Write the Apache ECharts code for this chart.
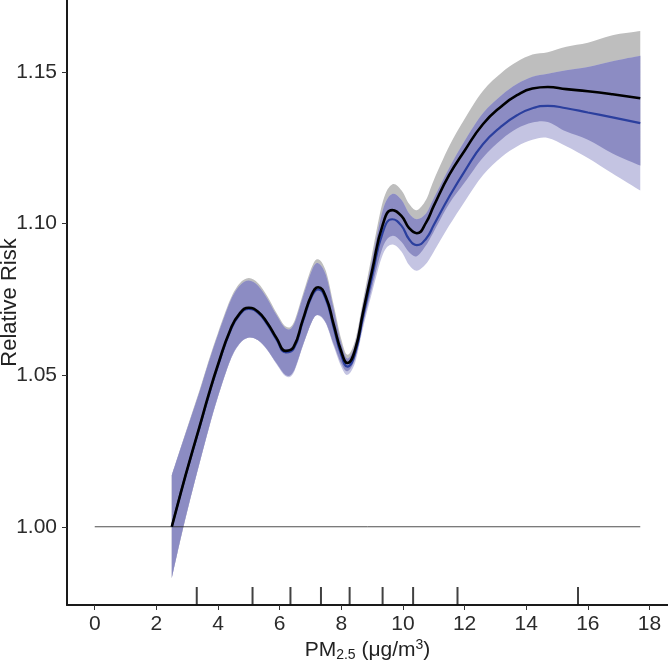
<!DOCTYPE html>
<html>
<head>
<meta charset="utf-8">
<script src="https://cdn.jsdelivr.net/npm/echarts@6/dist/echarts.min.js"></script>
<style>
html,body{margin:0;padding:0;background:#fff;}
#chart{width:668px;height:664px;}
</style>
</head>
<body>
<div id="chart"></div>
<script>
// PM2.5 exposure grid (µg/m3)
const xs = [2.5, 2.8, 3.1, 3.4, 3.7, 4.0, 4.4, 4.7, 5.0, 5.3, 5.6, 5.9, 6.2, 6.45, 6.75, 7.05, 7.25, 7.5, 7.75, 8.0, 8.2, 8.45, 8.7, 9.0, 9.35, 9.65, 9.95, 10.2, 10.45, 10.75, 11.0, 11.5, 12.0, 12.6, 13.2, 13.7, 14.2, 14.7, 15.3, 16.0, 16.8, 17.7];

// Model A (black line, grey band)
const riskA = [1.0000, 1.0115, 1.0225, 1.0330, 1.0437, 1.0535, 1.0650, 1.0703, 1.0722, 1.0709, 1.0672, 1.0622, 1.0580, 1.0592, 1.0682, 1.0768, 1.0790, 1.0758, 1.0668, 1.0578, 1.0540, 1.0585, 1.0705, 1.0845, 1.0998, 1.1044, 1.1025, 1.0985, 1.0968, 1.1003, 1.1058, 1.1160, 1.1240, 1.1328, 1.1387, 1.1423, 1.1445, 1.1450, 1.1443, 1.1436, 1.1426, 1.1413];
const lowA  = [0.9830, 0.9965, 1.0092, 1.0210, 1.0325, 1.0430, 1.0550, 1.0604, 1.0624, 1.0615, 1.0584, 1.0539, 1.0500, 1.0512, 1.0598, 1.0678, 1.0698, 1.0673, 1.0603, 1.0538, 1.0513, 1.0555, 1.0667, 1.0790, 1.0923, 1.0959, 1.0940, 1.0905, 1.0892, 1.0928, 1.0973, 1.1065, 1.1135, 1.1218, 1.1277, 1.1313, 1.1333, 1.1335, 1.1303, 1.1276, 1.1231, 1.1191];
const upA   = [1.0170, 1.0265, 1.0358, 1.0450, 1.0549, 1.0640, 1.0750, 1.0802, 1.0820, 1.0803, 1.0760, 1.0705, 1.0660, 1.0672, 1.0766, 1.0858, 1.0882, 1.0843, 1.0733, 1.0618, 1.0567, 1.0615, 1.0743, 1.0900, 1.1073, 1.1129, 1.1110, 1.1065, 1.1044, 1.1078, 1.1143, 1.1255, 1.1345, 1.1438, 1.1497, 1.1533, 1.1557, 1.1565, 1.1583, 1.1596, 1.1621, 1.1635];

// Model B (blue line, blue band)
const riskB = [1.0000, 1.0115, 1.0223, 1.0327, 1.0433, 1.0531, 1.0646, 1.0699, 1.0718, 1.0705, 1.0667, 1.0617, 1.0575, 1.0586, 1.0676, 1.0762, 1.0783, 1.0750, 1.0658, 1.0566, 1.0528, 1.0572, 1.0690, 1.0826, 1.0972, 1.1014, 1.0993, 1.0948, 1.0929, 1.0950, 1.0995, 1.1088, 1.1172, 1.1262, 1.1321, 1.1357, 1.1380, 1.1388, 1.1380, 1.1366, 1.1350, 1.1331];
const lowB  = [0.9830, 0.9967, 1.0092, 1.0209, 1.0323, 1.0428, 1.0548, 1.0603, 1.0624, 1.0615, 1.0582, 1.0536, 1.0496, 1.0507, 1.0595, 1.0677, 1.0697, 1.0670, 1.0596, 1.0528, 1.0501, 1.0542, 1.0653, 1.0773, 1.0899, 1.0931, 1.0908, 1.0863, 1.0844, 1.0867, 1.0907, 1.0993, 1.1072, 1.1160, 1.1219, 1.1254, 1.1276, 1.1282, 1.1255, 1.1216, 1.1165, 1.1109];
const upB   = [1.0170, 1.0263, 1.0354, 1.0445, 1.0543, 1.0634, 1.0744, 1.0795, 1.0812, 1.0795, 1.0752, 1.0698, 1.0654, 1.0665, 1.0757, 1.0847, 1.0869, 1.0830, 1.0720, 1.0604, 1.0555, 1.0602, 1.0727, 1.0879, 1.1045, 1.1097, 1.1078, 1.1033, 1.1014, 1.1033, 1.1083, 1.1183, 1.1272, 1.1364, 1.1423, 1.1460, 1.1484, 1.1494, 1.1505, 1.1516, 1.1535, 1.1553];

// Rug (observation deciles) and reference line
const rugX = [3.31, 5.12, 6.35, 7.34, 8.27, 9.34, 10.33, 11.77, 15.68];
const refX = [0, 17.7];
const refY = [1, 1];

// Axis ticks
const xTicks = [0, 2, 4, 6, 8, 10, 12, 14, 16, 18];
const yTicks = [1.00, 1.05, 1.10, 1.15];

const X_MIN = -0.9, X_MAX = 18.6, Y_MIN = 0.9742, Y_MAX = 1.1737;

const FONT = '"Liberation Sans", Arial, Helvetica, sans-serif';
const C_GREY = '#bebebe', C_LAV = '#c4c4e2', C_DARK = '#8c8cc3', C_BLUE = '#2b3f9e';

const lowI = xs.map((_, i) => Math.max(lowA[i], lowB[i]));
const upI = xs.map((_, i) => Math.min(upA[i], upB[i]));

// Catmull-Rom -> cubic bezier path through pixel points
function crPath(p) {
  let s = '';
  const t = 1 / 6;
  for (let i = 0; i < p.length - 1; i++) {
    const p0 = p[Math.max(i - 1, 0)], p1 = p[i], p2 = p[i + 1], p3 = p[Math.min(i + 2, p.length - 1)];
    s += ' C' + (p1[0] + (p2[0] - p0[0]) * t) + ' ' + (p1[1] + (p2[1] - p0[1]) * t) + ' ' +
         (p2[0] - (p3[0] - p1[0]) * t) + ' ' + (p2[1] - (p3[1] - p1[1]) * t) + ' ' + p2[0] + ' ' + p2[1];
  }
  return s;
}

function bandSeries(lo, hi, color, z) {
  return {
    type: 'custom', silent: true, z: z, clip: false,
    data: xs.map((x, i) => [x, lo[i], hi[i]]),
    encode: { x: 0, y: [1, 2] },
    renderItem: function (params, api) {
      if (params.dataIndex !== 0) return null;
      const top = xs.map((x, i) => api.coord([x, hi[i]]));
      const bot = xs.map((x, i) => api.coord([x, lo[i]])).reverse();
      const d = 'M' + top[0][0] + ' ' + top[0][1] + crPath(top) +
                ' L' + bot[0][0] + ' ' + bot[0][1] + crPath(bot) + ' Z';
      return { type: 'path', shape: { pathData: d }, style: { fill: color, stroke: null } };
    }
  };
}

const chart = echarts.init(document.getElementById('chart'), null, { renderer: 'canvas' });
chart.setOption({
  animation: false,
  backgroundColor: '#fff',
  grid: { left: 67, right: 0, top: 0, bottom: 59, containLabel: false, outerBoundsMode: 'none' },
  xAxis: {
    type: 'value', min: X_MIN, max: X_MAX,
    name: 'PM{sub|2.5} (μg/m{sup|3})',
    nameLocation: 'middle', nameGap: 33, nameMoveOverlap: false,
    nameTextStyle: {
      fontFamily: FONT, fontSize: 21, color: '#222',
      rich: {
        sub: { fontFamily: FONT, fontSize: 14, color: '#222', padding: [10, 0, 0, 0] },
        sup: { fontFamily: FONT, fontSize: 14, color: '#222', padding: [0, 0, 9, 0] }
      }
    },
    axisLine: { onZero: false, lineStyle: { color: '#1a1a1a', width: 2 } },
    axisTick: { show: true, length: 5, customValues: xTicks, lineStyle: { color: '#333', width: 1 } },
    axisLabel: { customValues: xTicks, fontFamily: FONT, fontSize: 21, color: '#2b2b2b', margin: 9 },
    splitLine: { show: false }
  },
  yAxis: {
    type: 'value', min: Y_MIN, max: Y_MAX,
    name: 'Relative Risk',
    nameLocation: 'middle', nameGap: 46, nameRotate: 90, nameMoveOverlap: false,
    nameTextStyle: { fontFamily: FONT, fontSize: 22, color: '#222' },
    axisLine: { onZero: false, lineStyle: { color: '#1a1a1a', width: 2 } },
    axisTick: { show: true, length: 5, customValues: yTicks, lineStyle: { color: '#333', width: 1 } },
    axisLabel: { customValues: yTicks, fontFamily: FONT, fontSize: 21, color: '#2b2b2b', margin: 10,
      formatter: v => v.toFixed(2) },
    splitLine: { show: false }
  },
  series: [
    bandSeries(lowA, upA, C_GREY, 2),
    bandSeries(lowB, upB, C_LAV, 2),
    bandSeries(lowI, upI, C_DARK, 2),
    { type: 'line', data: refX.map((x, i) => [x, refY[i]]), symbol: 'none',
      lineStyle: { color: '#222', width: 0.8 }, silent: true, z: 3 },
    { type: 'line', data: xs.map((x, i) => [x, riskB[i]]), symbol: 'none', smooth: 0.5,
      lineStyle: { color: C_BLUE, width: 2.2 }, silent: true, z: 4 },
    { type: 'line', data: xs.map((x, i) => [x, riskA[i]]), symbol: 'none', smooth: 0.5,
      lineStyle: { color: '#000', width: 2.6 }, silent: true, z: 5 },
    { type: 'scatter', data: rugX.map(x => [x, Y_MIN]), symbol: 'rect', symbolSize: [2, 18],
      symbolOffset: [0, -9], itemStyle: { color: '#111' }, clip: false, silent: true, z: 6 }
  ]
});
</script>
</body>
</html>
